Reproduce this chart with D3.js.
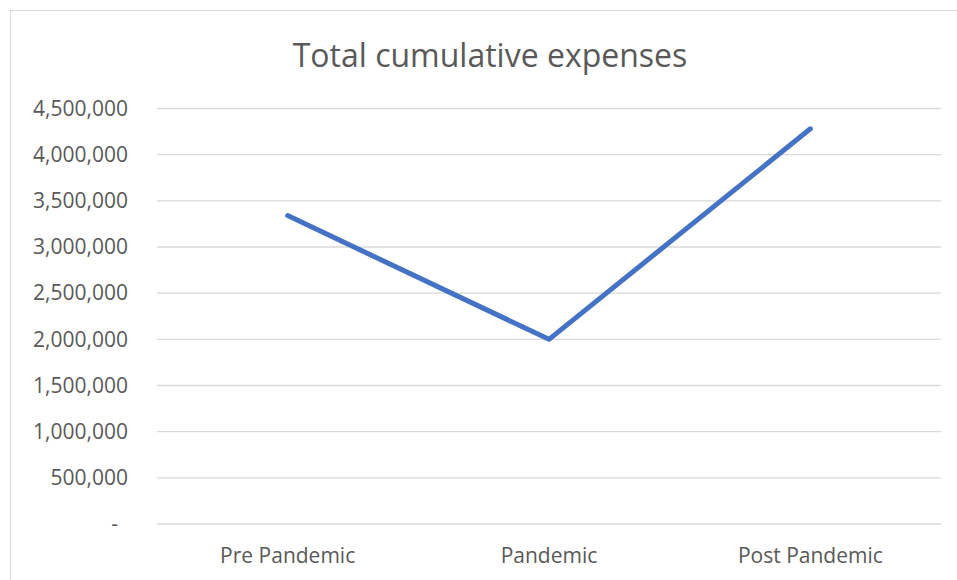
<!DOCTYPE html>
<html>
<head>
<meta charset="utf-8">
<script src="https://cdn.jsdelivr.net/npm/d3@7"></script>
<style>
  body { margin: 0; background: #fff; }
  svg text { font-family: "Open Sans", sans-serif; fill: #595959; }
</style>
</head>
<body>
<div id="chart"></div>
<script>
// data
var categories = ["Pre Pandemic", "Pandemic", "Post Pandemic"];
var expenses = [3340000, 2000000, 4280000];
var yTicks = [0, 500000, 1000000, 1500000, 2000000, 2500000, 3000000, 3500000, 4000000, 4500000];

var width = 957, height = 580;
var margin = {top: 108.5, right: 16, bottom: 56, left: 157};

var svg = d3.select("#chart").append("svg")
    .attr("width", width)
    .attr("height", height);

// chart area border (runs past the right and bottom edge)
svg.append("rect")
    .attr("x", 10.5).attr("y", 10.5)
    .attr("width", 970).attr("height", 600)
    .attr("fill", "none")
    .attr("stroke", "#d9d9d9");

var x = d3.scaleBand()
    .domain(categories)
    .range([margin.left, width - margin.right]);

var y = d3.scaleLinear()
    .domain([0, 4500000])
    .range([height - margin.bottom, margin.top]);

// gridlines
svg.append("g")
    .selectAll("line")
    .data(yTicks)
    .enter().append("line")
    .attr("x1", margin.left).attr("x2", width - margin.right)
    .attr("y1", function(d) { return y(d); })
    .attr("y2", function(d) { return y(d); })
    .attr("stroke", "#d9d9d9")
    .attr("stroke-width", 1.3);

var fmt = d3.format(",");
var yAxis = d3.axisLeft(y)
    .tickValues(yTicks)
    .tickSize(0)
    .tickPadding(29)
    .tickFormat(function(d) { return d === 0 ? "-" : fmt(d); });

svg.append("g")
    .attr("transform", "translate(" + margin.left + ",0)")
    .call(yAxis)
    .call(function(g) { g.select(".domain").remove(); })
    .selectAll("text")
    .style("font-size", "21px")
    .attr("fill", "#595959")
    // accounting-style zero dash sits further left
    .attr("dx", function(d) { return d === 0 ? -10 : 0; });

var xAxis = d3.axisBottom(x).tickSize(0).tickPadding(24);
svg.append("g")
    .attr("transform", "translate(0," + (height - margin.bottom) + ")")
    .call(xAxis)
    .call(function(g) { g.select(".domain").remove(); })
    .selectAll("text")
    .style("font-size", "21px")
    .attr("fill", "#595959");

var line = d3.line()
    .x(function(d, i) { return x(categories[i]) + x.bandwidth() / 2; })
    .y(function(d) { return y(d); });

svg.append("path")
    .datum(expenses)
    .attr("d", line)
    .attr("fill", "none")
    .attr("stroke", "#4472c4")
    .attr("stroke-width", 5)
    .attr("stroke-linecap", "round")
    .attr("stroke-linejoin", "round");

svg.append("text")
    .attr("x", 490)
    .attr("y", 67)
    .attr("text-anchor", "middle")
    .style("font-size", "32px")
    .text("Total cumulative expenses");
</script>
</body>
</html>
